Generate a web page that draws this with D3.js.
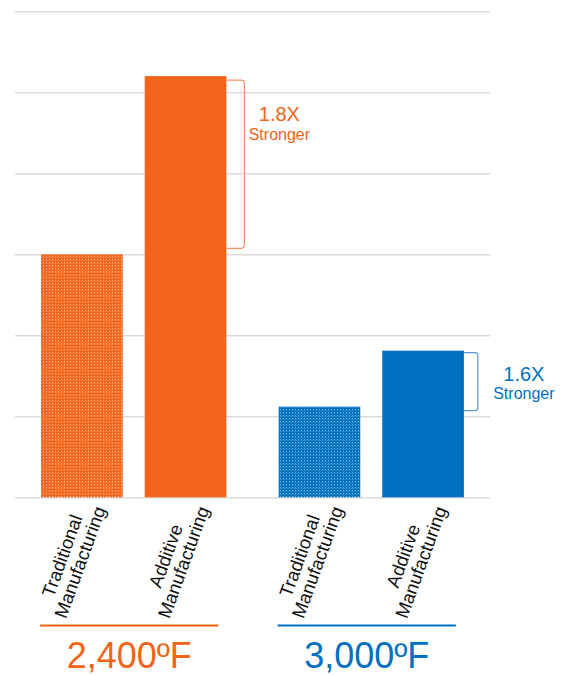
<!DOCTYPE html>
<html>
<head>
<meta charset="utf-8">
<script src="https://cdn.jsdelivr.net/npm/d3@7"></script>
<style>
  body { margin: 0; background: #fff; }
  text { font-family: Arial, "Liberation Sans", Helvetica, sans-serif; }
</style>
</head>
<body>
<svg width="571" height="675"></svg>
<script>
// Chart values
const groups = ["2,400ºF", "3,000ºF"];
const methods = ["Traditional", "Additive"];
const methodLabels = [["Traditional", "Manufacturing"], ["Additive", "Manufacturing"]];
const strength2400 = [3.0, 5.2];
const strength3000 = [1.12, 1.81];
const ratioLabels = ["1.8X", "1.6X"];
const yTicks = [0, 1, 2, 3, 4, 5, 6];
const groupColors = ["#f26419", "#0070c0"];
const bracketColors = ["#f7905c", "#5b9bd5"];

var svg = d3.select("svg");

// Build rows from the arrays
var rows = [];
[strength2400, strength3000].forEach(function(vals, gi) {
    vals.forEach(function(v, mi) {
        rows.push({group: groups[gi], method: methods[mi], value: v, gi: gi, mi: mi});
    });
});

// Scales
var x0 = d3.scaleBand().domain(groups).range([15, 490]).paddingInner(0.22).paddingOuter(0.11);
var x1 = d3.scaleBand().domain(methods).range([0, x0.bandwidth()]).paddingInner(0.212);
var y = d3.scaleLinear().domain([0, 6]).range([497.3, 11.3]);

// Patterns for traditional bars
var defs = svg.append("defs");
groupColors.forEach(function(c, i) {
    var p = defs.append("pattern")
        .attr("id", "dots" + i)
        .attr("patternUnits", "userSpaceOnUse")
        .attr("width", 3).attr("height", 3);
    p.append("rect").attr("width", 3).attr("height", 3).attr("fill", c);
    p.append("rect").attr("x", 1).attr("y", 1).attr("width", 1).attr("height", 1)
        .attr("fill", "#fff").attr("opacity", 0.5);
    p.append("rect").attr("x", 0).attr("y", 2).attr("width", 3).attr("height", 0.6)
        .attr("fill", "#fff").attr("opacity", 0.2);
});

// Gridlines
svg.append("g")
    .attr("transform", "translate(15,0)")
    .call(d3.axisLeft(y).tickValues(yTicks).tickSize(-475).tickFormat(""))
    .call(function(g) { g.select(".domain").remove(); })
    .call(function(g) {
        g.selectAll("line").attr("stroke", "#dadada").attr("stroke-width", 1.5);
    });

// Bars
svg.append("g").selectAll("rect")
    .data(rows)
    .enter().append("rect")
    .attr("x", function(d) { return x0(d.group) + x1(d.method); })
    .attr("y", function(d) { return y(d.value); })
    .attr("width", x1.bandwidth())
    .attr("height", function(d) { return y(0) - y(d.value); })
    .attr("fill", function(d) {
        return d.mi === 0 ? "url(#dots" + d.gi + ")" : groupColors[d.gi];
    });

// Category labels (rotated, two lines)
rows.forEach(function(d) {
    var cx = x0(d.group) + x1(d.method) + x1.bandwidth() / 2 - 11;
    var t = svg.append("text")
        .attr("transform", "translate(" + cx + ",559) rotate(-70)")
        .attr("text-anchor", "middle")
        .attr("font-size", 18.5)
        .attr("fill", "#111");
    methodLabels[d.mi].forEach(function(line, li) {
        t.append("tspan")
            .attr("x", 0)
            .attr("y", li === 0 ? -9.5 : 9.5)
            .attr("dy", "0.35em")
            .text(line);
    });
});

// Brackets with ratio notes
var annOffsets = [{dx: 35, dy: 41, top: 4, bot: -6}, {dx: 46, dy: 28, top: 2, bot: 4}];
[strength2400, strength3000].forEach(function(vals, gi) {
    var xr = x0(groups[gi]) + x1(methods[1]) + x1.bandwidth();
    var xe = xr + (gi === 0 ? 18 : 14);
    var yt = y(vals[1]) + annOffsets[gi].top;
    var yb = y(vals[0]) + annOffsets[gi].bot;
    var p = d3.path();
    p.moveTo(xr, yt);
    p.arcTo(xe, yt, xe, yb, 3);
    p.arcTo(xe, yb, xr, yb, 3);
    p.lineTo(xr, yb);
    svg.append("path")
        .attr("d", p.toString())
        .attr("fill", "none")
        .attr("stroke", bracketColors[gi])
        .attr("stroke-width", 1.2);

    var tx = xe + annOffsets[gi].dx;
    var ty = yt + annOffsets[gi].dy;
    svg.append("text")
        .attr("x", tx).attr("y", ty)
        .attr("text-anchor", "middle")
        .attr("font-size", 20)
        .attr("fill", groupColors[gi])
        .text(ratioLabels[gi]);
    svg.append("text")
        .attr("x", tx).attr("y", ty + 18.5)
        .attr("text-anchor", "middle")
        .attr("font-size", 16)
        .attr("fill", groupColors[gi])
        .text("Stronger");
});

// Group underlines and temperature labels
groups.forEach(function(g, gi) {
    var xs = x0(g) - 1;
    var xe = x0(g) + x0.bandwidth() - 8;
    svg.append("line")
        .attr("x1", xs).attr("x2", xe)
        .attr("y1", 625.5).attr("y2", 625.5)
        .attr("stroke", groupColors[gi])
        .attr("stroke-width", 2);
    svg.append("text")
        .attr("x", (xs + xe) / 2)
        .attr("y", 668)
        .attr("text-anchor", "middle")
        .attr("font-size", 36)
        .attr("fill", groupColors[gi])
        .text(g);
});
</script>
</body>
</html>
